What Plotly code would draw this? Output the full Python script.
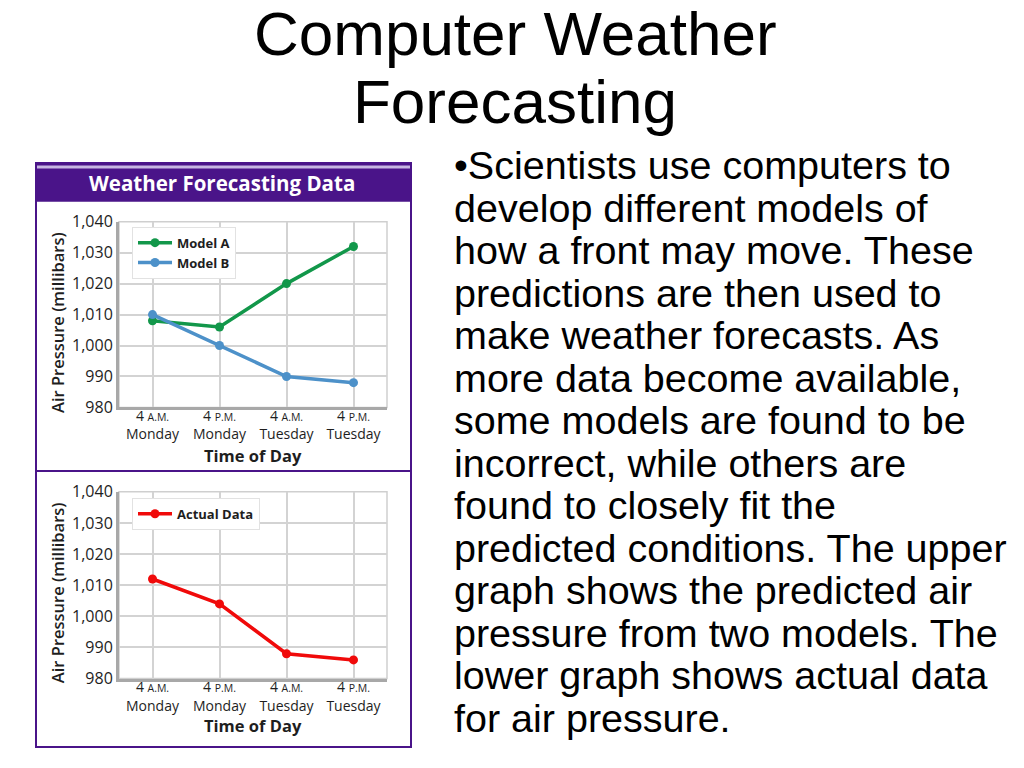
import plotly.graph_objects as go

# ---------------- data ----------------
times = ["4 A.M. Monday", "4 P.M. Monday", "4 A.M. Tuesday", "4 P.M. Tuesday"]
tick_labels = [
    "4 <span style='font-size:10.5px'>A.M.</span><br>Monday",
    "4 <span style='font-size:10.5px'>P.M.</span><br>Monday",
    "4 <span style='font-size:10.5px'>A.M.</span><br>Tuesday",
    "4 <span style='font-size:10.5px'>P.M.</span><br>Tuesday",
]
model_a = [1008, 1006, 1020, 1032]
model_b = [1010, 1000, 990, 988]
actual = [1012, 1004, 988, 986]
y_ticks = [980, 990, 1000, 1010, 1020, 1030, 1040]

title_lines = ["Computer Weather", "Forecasting"]
body_lines = [
    "•Scientists use computers to",
    "develop different models of",
    "how a front may move. These",
    "predictions are then used to",
    "make weather forecasts. As",
    "more data become available,",
    "some models are found to be",
    "incorrect, while others are",
    "found to closely fit the",
    "predicted conditions. The upper",
    "graph shows the predicted air",
    "pressure from two models. The",
    "lower graph shows actual data",
    "for air pressure.",
]

W, H = 1024, 768
# helpers: convert target screenshot pixels to paper coordinates
def px(x):
    return (x - 8) / W
def py(y):
    return 1 - ((y - 16.9) / 0.978) / H

PURPLE = "#4A1489"
GREEN = "#12974A"
BLUE = "#4D91C9"
RED = "#F00A0A"
CHART_FONT = "Open Sans"
TXT = "#1E1E1E"

fig = go.Figure()

fig.add_trace(go.Scatter(x=times, y=model_a, name="Model A", mode="lines+markers",
                         line=dict(color=GREEN, width=3.5), marker=dict(size=9, color=GREEN),
                         xaxis="x", yaxis="y", legend="legend"))
fig.add_trace(go.Scatter(x=times, y=model_b, name="Model B", mode="lines+markers",
                         line=dict(color=BLUE, width=3.5), marker=dict(size=9, color=BLUE),
                         xaxis="x", yaxis="y", legend="legend"))
fig.add_trace(go.Scatter(x=times, y=actual, name="Actual Data", mode="lines+markers",
                         line=dict(color=RED, width=3.5), marker=dict(size=9, color=RED),
                         xaxis="x2", yaxis="y2", legend="legend2"))

xdom = [px(119), px(387)]
axis_common_x = dict(type="category", categoryorder="array", categoryarray=times,
                     range=[-0.5, 3.5], tickvals=times, ticktext=tick_labels,
                     showgrid=True, gridcolor="#D3D3D3", gridwidth=1.5,
                     showline=True, linecolor="#A8A8A8", linewidth=3,
                     ticks="", ticklabelstandoff=-6,
                     tickfont=dict(family=CHART_FONT, size=14, color=TXT),
                     domain=xdom, fixedrange=True)
axis_common_y = dict(range=[980, 1040], tickvals=y_ticks, tickformat=",d",
                     showgrid=True, gridcolor="#D3D3D3", gridwidth=1.5,
                     showline=True, linecolor="#A8A8A8", linewidth=3,
                     zeroline=False, ticks="",
                     tickfont=dict(family=CHART_FONT, size=16, color=TXT))

legend_font = dict(family=CHART_FONT, size=13, color=TXT, weight="bold")
fig.update_layout(
    width=W, height=H,
    margin=dict(l=0, r=0, t=0, b=0),
    paper_bgcolor="white", plot_bgcolor="white",
    showlegend=True,
    xaxis=dict(**axis_common_x, anchor="y"),
    yaxis=dict(**axis_common_y, domain=[py(408), py(221)], anchor="x"),
    xaxis2=dict(**axis_common_x, anchor="y2"),
    yaxis2=dict(**axis_common_y, domain=[py(681), py(493)], anchor="x2"),
    legend=dict(x=px(132), y=py(226), xanchor="left", yanchor="top",
                bgcolor="white", bordercolor="#E2E2E2", borderwidth=1,
                font=legend_font, tracegroupgap=0, itemwidth=34),
    legend2=dict(x=px(132), y=py(499), xanchor="left", yanchor="top",
                 bgcolor="white", bordercolor="#E2E2E2", borderwidth=1,
                 font=legend_font, itemwidth=34),
)

shapes = []
# panel outer border
shapes.append(dict(type="rect", xref="paper", yref="paper", x0=px(36), x1=px(411), y0=py(750), y1=py(162),
                   line=dict(color=PURPLE, width=2), fillcolor="rgba(0,0,0,0)", layer="below"))
# header band
shapes.append(dict(type="rect", xref="paper", yref="paper", x0=px(36), x1=px(411), y0=py(201), y1=py(162),
                   line=dict(width=0), fillcolor=PURPLE, layer="below"))
# lavender stripe
shapes.append(dict(type="rect", xref="paper", yref="paper", x0=px(37), x1=px(410), y0=py(167.5), y1=py(164.5),
                   line=dict(width=0), fillcolor="#C7B6E2", layer="below"))
# divider
shapes.append(dict(type="line", xref="paper", yref="paper", x0=px(36), x1=px(411), y0=py(472), y1=py(472),
                   line=dict(color=PURPLE, width=2)))
# plot borders right/top
for xa, ya in (("x", "y"), ("x2", "y2")):
    shapes.append(dict(type="rect", xref=f"{xa} domain", yref=f"{ya} domain", x0=0, x1=1, y0=0, y1=1,
                       line=dict(color="#CFCFCF", width=1.5), layer="below"))
fig.update_layout(shapes=shapes)

ann = []
for i, (line, yc) in enumerate(zip(title_lines, [31, 100])):
    ann.append(dict(text=line, x=px(515), y=py(yc), xref="paper", yref="paper",
                    xanchor="center", yanchor="middle", showarrow=False,
                    font=dict(family="Liberation Sans", size=62, color="black")))
for i, line in enumerate(body_lines):
    ann.append(dict(text=line, x=px(452), y=py(164 + 42.8 * i), xref="paper", yref="paper",
                    xanchor="left", yanchor="middle", showarrow=False, align="left",
                    font=dict(family="Liberation Sans", size=39.5, color="black")))
ann.append(dict(text="Weather Forecasting Data", x=px(222), y=py(182), xref="paper", yref="paper",
                xanchor="center", yanchor="middle", showarrow=False,
                font=dict(family=CHART_FONT, size=20.5, color="white", weight="bold")))
for yc in (323, 595):
    ann.append(dict(text="Air Pressure (millibars)", x=px(57), y=py(yc), xref="paper", yref="paper",
                    xanchor="center", yanchor="middle", showarrow=False, textangle=-90,
                    font=dict(family=CHART_FONT, size=16.5, color=TXT, weight=600)))
for yc in (456, 728):
    ann.append(dict(text="Time of Day", x=px(253), y=py(yc), xref="paper", yref="paper",
                    xanchor="center", yanchor="middle", showarrow=False,
                    font=dict(family=CHART_FONT, size=16.5, color=TXT, weight="bold")))
fig.update_layout(annotations=ann)

fig.write_html("out.html")
